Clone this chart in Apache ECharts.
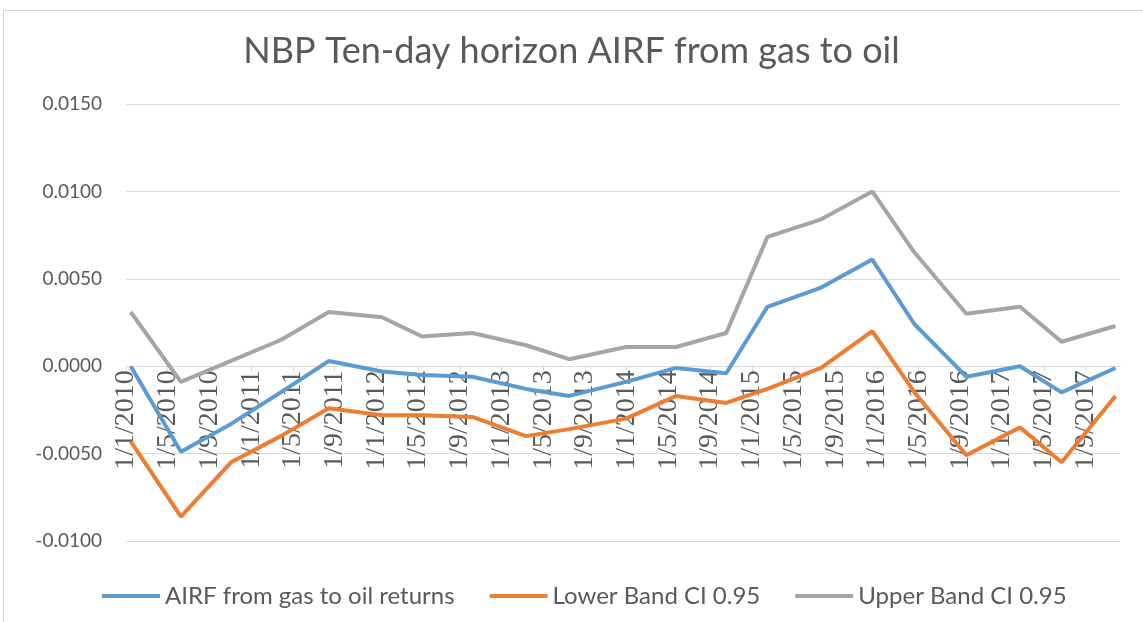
<!DOCTYPE html>
<html>
<head>
<meta charset="utf-8">
<script src="https://cdn.jsdelivr.net/npm/echarts@6/dist/echarts.min.js"></script>
<style>
* { margin: 0; padding: 0; box-sizing: border-box; }
body { background: #fff; }
#chart { width: 1143px; height: 622px; }
</style>
</head>
<body>
<div id="chart"></div>
<script>
// dates of the points (date axis, 4-month ticks)
var pointDates = ['2010-01-15', '2010-06-09', '2010-11-03', '2011-03-27', '2011-08-15',
  '2012-01-18', '2012-05-13', '2012-10-07', '2013-03-12', '2013-07-16', '2013-12-30',
  '2014-05-24', '2014-10-18', '2015-02-15', '2015-07-21', '2015-12-18', '2016-04-19',
  '2016-09-18', '2017-02-21', '2017-06-22', '2017-11-27'];

var airfReturns = [0.0000, -0.0049, -0.0033, -0.0015, 0.0003, -0.0003, -0.0005, -0.0006,
  -0.0013, -0.0017, -0.0009, -0.0001, -0.0004, 0.0034, 0.0045, 0.0061, 0.0024, -0.0006,
  0.0000, -0.0015, -0.0001];
var lowerBand = [-0.0043, -0.0086, -0.0055, -0.0040, -0.0024, -0.0028, -0.0028, -0.0029,
  -0.0040, -0.0036, -0.0030, -0.0017, -0.0021, -0.0013, -0.0001, 0.0020, -0.0015, -0.0051,
  -0.0035, -0.0055, -0.0017];
var upperBand = [0.0031, -0.0009, 0.0003, 0.0015, 0.0031, 0.0028, 0.0017, 0.0019, 0.0012,
  0.0004, 0.0011, 0.0011, 0.0019, 0.0074, 0.0084, 0.0100, 0.0065, 0.0030, 0.0034, 0.0014,
  0.0023];

var tickLabels = ['1/1/2010', '1/5/2010', '1/9/2010', '1/1/2011', '1/5/2011', '1/9/2011',
  '1/1/2012', '1/5/2012', '1/9/2012', '1/1/2013', '1/5/2013', '1/9/2013',
  '1/1/2014', '1/5/2014', '1/9/2014', '1/1/2015', '1/5/2015', '1/9/2015',
  '1/1/2016', '1/5/2016', '1/9/2016', '1/1/2017', '1/5/2017', '1/9/2017'];

var seriesNames = ['AIRF from gas to oil returns', 'Lower Band CI 0.95', 'Upper Band CI 0.95'];

var yMin = -0.01, yMax = 0.015;
var gridTop = 104, gridBottom = 81, chartH = 622;

// months since 1 Jan 2010
function monthOffset(s) {
  var p = s.split('-').map(Number);
  var days = new Date(p[0], p[1], 0).getDate();
  return (p[0] - 2010) * 12 + (p[1] - 1) + (p[2] - 1) / days;
}

var xs = pointDates.map(monthOffset);
var tickValues = tickLabels.map(function (l, i) { return i * 4; });

function pairs(vals) {
  return vals.map(function (v, i) { return [xs[i], v]; });
}

// lift the date axis up to the zero line
var plotH = chartH - gridTop - gridBottom;
var zeroOffset = -plotH * (0 - yMin) / (yMax - yMin);

var chart = echarts.init(document.getElementById('chart'));

chart.setOption({
  animation: false,
  backgroundColor: '#fff',
  title: {
    text: 'NBP Ten-day horizon AIRF from gas to oil',
    left: 'center',
    top: 28,
    textStyle: { fontFamily: 'Lato', fontSize: 36, fontWeight: 'normal', color: '#595959' }
  },
  legend: {
    left: 97,
    top: 579,
    icon: 'rect',
    itemWidth: 58,
    itemHeight: 4,
    itemGap: 35,
    textStyle: { fontFamily: 'Lato', fontSize: 24, color: '#595959' },
    data: seriesNames
  },
  grid: { left: 126, right: 23, top: gridTop, bottom: gridBottom, outerBoundsMode: 'none', containLabel: false },
  xAxis: {
    type: 'value',
    min: 0,
    max: 95.3,
    interval: 4,
    offset: zeroOffset,
    splitLine: { show: false },
    axisLine: { onZero: false, lineStyle: { color: '#d9d9d9', width: 1 } },
    axisTick: { show: true, length: 5, customValues: tickValues, lineStyle: { color: '#d9d9d9' } },
    axisLabel: {
      rotate: 90,
      margin: 4,
      customValues: tickValues,
      fontFamily: 'Liberation Serif',
      fontSize: 28,
      color: '#595959',
      formatter: function (v) { return tickLabels[Math.round(v / 4)] || ''; }
    }
  },
  yAxis: {
    type: 'value',
    min: yMin,
    max: yMax,
    interval: 0.005,
    axisLine: { show: false, onZero: false },
    axisTick: { show: false },
    splitLine: { lineStyle: { color: '#d9d9d9', width: 1 } },
    axisLabel: {
      margin: 24,
      fontFamily: 'Lato',
      fontSize: 19,
      color: '#595959',
      formatter: function (v) { return v.toFixed(4); }
    }
  },
  series: [
    {
      name: seriesNames[0], type: 'line', data: pairs(airfReturns),
      showSymbol: false, lineStyle: { width: 4, color: '#5B9BD5' }, itemStyle: { color: '#5B9BD5' }
    },
    {
      name: seriesNames[1], type: 'line', data: pairs(lowerBand),
      showSymbol: false, lineStyle: { width: 4, color: '#ED7D31' }, itemStyle: { color: '#ED7D31' }
    },
    {
      name: seriesNames[2], type: 'line', data: pairs(upperBand),
      showSymbol: false, lineStyle: { width: 4, color: '#A5A5A5' }, itemStyle: { color: '#A5A5A5' }
    }
  ],
  graphic: [
    {
      type: 'rect',
      shape: { x: 3.5, y: 10.5, width: 1200, height: 700 },
      style: { fill: 'none', stroke: '#d0d0d0', lineWidth: 1 },
      silent: true
    }
  ]
});
</script>
</body>
</html>
